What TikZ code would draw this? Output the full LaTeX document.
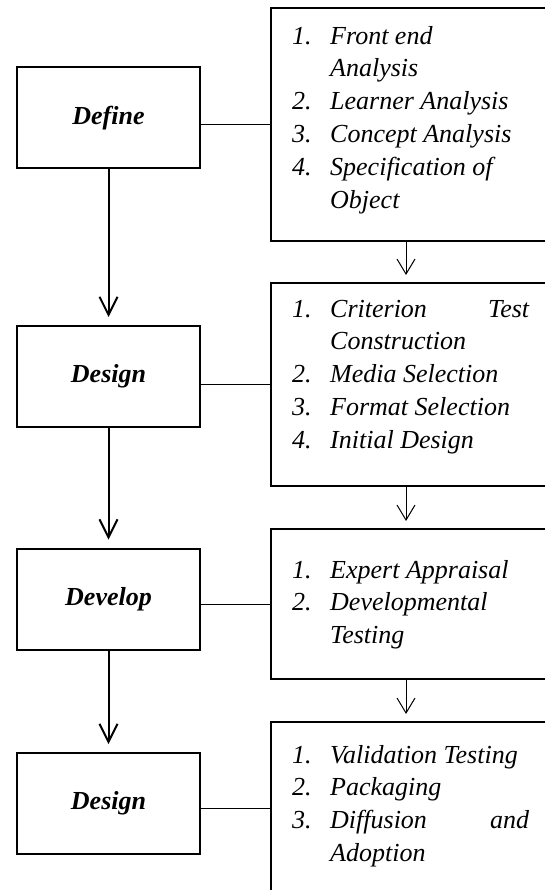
\documentclass[tikz,border=0pt]{standalone}
\usepackage{fontspec}
\setmainfont{Liberation Serif}
\usetikzlibrary{arrows.meta}
\begin{document}
\begin{tikzpicture}[x=1pt,y=-1pt]
  \tikzstyle{stage}=[draw=black,line width=2pt,minimum width=183pt,minimum height=101pt,font=\fontsize{26}{31}\selectfont\bfseries\itshape]
  \tikzstyle{steps}=[draw=black,line width=2pt,anchor=north west,minimum width=290pt]
  \tikzstyle{items}=[anchor=north west,inner sep=0pt,font=\fontsize{26}{32.8}\selectfont\itshape]
  \tikzstyle{link}=[draw,line width=1pt]
  \tikzstyle{flow}=[draw,line width=2pt,shorten >=8pt,-{Straight Barb[length=18pt,width=18pt]}]
  \tikzstyle{handoff}=[draw,line width=1pt,shorten >=7pt,-{Straight Barb[length=15pt,width=18pt]}]
  \useasboundingbox (0,0) rectangle (545,890);
  % stages
  \node [stage] (define) at (108.5,118) {\raisebox{2pt}{Define}};
  \node [stage] (design) at (108.5,376.5) {\raisebox{2pt}{Design}};
  \node [stage] (develop) at (108.5,599) {\raisebox{2pt}{Develop}};
  \node [stage] (disseminate) at (108.5,803.5) {\raisebox{2pt}{Design}};
  % activity boxes
  \node [steps,minimum height=233pt] (steps1) at (270,7) {};
  \node [steps,minimum height=203pt] (steps2) at (270,282) {};
  \node [steps,minimum height=150pt] (steps3) at (270,528) {};
  \node [steps,minimum height=172pt] (steps4) at (270,721) {};
  \node [items] (list1) at (292,21) {\begin{tabular}{@{}p{38pt}@{}p{199pt}@{}}
    1. & Front end\\
       & Analysis\\
    2. & Learner Analysis\\
    3. & Concept Analysis\\
    4. & Specification of\\
       & Object
  \end{tabular}};
  \node [items] (list2) at (292,294) {\begin{tabular}{@{}p{38pt}@{}p{199pt}@{}}
    1. & Criterion\hfill Test\\
       & Construction\\
    2. & Media Selection\\
    3. & Format Selection\\
    4. & Initial Design
  \end{tabular}};
  \node [items] (list3) at (292,555) {\begin{tabular}{@{}p{38pt}@{}p{199pt}@{}}
    1. & Expert Appraisal\\
    2. & Developmental\\
       & Testing
  \end{tabular}};
  \node [items] (list4) at (292,740) {\begin{tabular}{@{}p{38pt}@{}p{199pt}@{}}
    1. & Validation Testing\\
    2. & Packaging\\
    3. & Diffusion\hfill and\\
       & Adoption
  \end{tabular}};
  % connectors
  \coordinate (out1) at ([xshift=136pt]steps1.south west);
  \coordinate (out2) at ([xshift=136pt]steps2.south west);
  \coordinate (out3) at ([xshift=136pt]steps3.south west);
  \path[link] (steps1.west) edge (steps1.west -| define.east);
  \path[link] (steps2.west) edge (steps2.west -| design.east);
  \path[link] (steps3.west) edge (steps3.west -| develop.east);
  \path[link] (steps4.west) edge (steps4.west -| disseminate.east);
  \path[flow] (define) edge (design);
  \path[flow] (design) edge (develop);
  \path[flow] (develop) edge (disseminate);
  \draw[handoff] (out1) -- (out1 |- steps2.north);
  \draw[handoff] (out2) -- (out2 |- steps3.north);
  \draw[handoff] (out3) -- (out3 |- steps4.north);
\end{tikzpicture}
\end{document}
